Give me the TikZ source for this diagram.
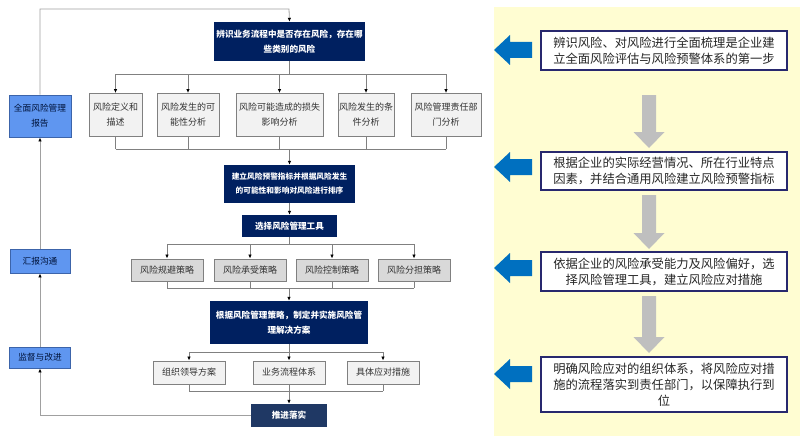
\documentclass[tikz,border=0pt]{standalone}
\usepackage{fontspec}
\setmainfont{Noto Sans CJK SC}
\usetikzlibrary{arrows.meta}

\definecolor{navy}{RGB}{0,32,96}
\definecolor{navylight}{RGB}{31,56,100}
\definecolor{boxgray}{RGB}{242,242,242}
\definecolor{boxgrayd}{RGB}{217,217,217}
\definecolor{edgegray}{RGB}{128,128,128}
\definecolor{linegray}{RGB}{160,160,160}
\definecolor{bluefill}{RGB}{95,150,240}
\definecolor{blueedge}{RGB}{60,100,170}
\definecolor{noteedge}{RGB}{40,40,110}
\definecolor{arrowblue}{RGB}{0,112,192}
\definecolor{arrowgray}{RGB}{191,191,191}
\definecolor{paneyellow}{RGB}{255,253,210}

\tikzset{
  darkbox/.style={fill=navy, text=white, font=\bfseries\fontsize{8.6}{15}\selectfont, align=center, inner sep=0pt},
  graybox/.style={draw=edgegray, fill=boxgray, line width=0.9pt, font=\fontsize{9}{15}\selectfont, text=black!80, align=center, inner sep=0pt},
  sidebox/.style={draw=blueedge, fill=bluefill, line width=0.9pt, font=\fontsize{8.7}{15}\selectfont, text=navy!60!black, align=center, inner sep=0pt},
  notebox/.style={draw=noteedge, fill=white, line width=1.2pt, font=\fontsize{12.3}{16}\selectfont, text=black!85, align=center, inner sep=0pt, minimum width=246pt},
  conn/.style={draw=edgegray, line width=0.8pt},
  flow/.style={conn, -{Latex[length=4pt, width=3.5pt, color=black]}},
  loopline/.style={draw=linegray, line width=0.8pt, -{Latex[length=4pt, width=3.5pt, color=black]}},
}

\begin{document}
\begin{tikzpicture}[x=1pt, y=-1pt]
\useasboundingbox (0,0) rectangle (800,436);
\fill[paneyellow] (494,7) rectangle (800,436);

\node[sidebox, minimum width=62pt, minimum height=42pt] (rep) at (40,116) {全面风险管理\\报告};
\node[sidebox, minimum width=60pt, minimum height=24pt] (comm) at (40,261) {汇报沟通};
\node[sidebox, minimum width=61pt, minimum height=21pt] (mon) at (40,357.5) {监督与改进};

\node[darkbox, minimum width=151pt, minimum height=39pt] (id) at (289.5,41.5) {辨识业务流程中是否存在风险，存在哪\\些类别的风险};
\node[graybox, minimum width=53pt, minimum height=43pt] (a1) at (115.5,115) {风险定义和\\描述};
\node[graybox, minimum width=62pt, minimum height=43pt] (a2) at (188,115) {风险发生的可\\能性分析};
\node[graybox, minimum width=87pt, minimum height=43pt] (a3) at (279.5,115) {风险可能造成的损失\\影响分析};
\node[graybox, minimum width=56pt, minimum height=43pt] (a4) at (366,115) {风险发生的条\\件分析};
\node[graybox, minimum width=70pt, minimum height=43pt] (a5) at (446,115) {风险管理责任部\\门分析};
\node[darkbox, font=\bfseries\fontsize{7.7}{14}\selectfont, minimum width=131pt, minimum height=38pt] (rank) at (289.5,184) {建立风险预警指标并根据风险发生\\的可能性和影响对风险进行排序};
\node[darkbox, minimum width=95pt, minimum height=22pt] (tool) at (289.5,226) {选择风险管理工具};
\node[graybox, fill=boxgrayd, minimum width=72pt, minimum height=22pt] (s1) at (167,270) {风险规避策略};
\node[graybox, fill=boxgrayd, minimum width=72pt, minimum height=22pt] (s2) at (250,270) {风险承受策略};
\node[graybox, fill=boxgrayd, minimum width=72pt, minimum height=22pt] (s3) at (332,270) {风险控制策略};
\node[graybox, fill=boxgrayd, minimum width=72pt, minimum height=22pt] (s4) at (414,270) {风险分担策略};
\node[darkbox, minimum width=158pt, minimum height=43pt] (plan) at (289,322.5) {根据风险管理策略，制定并实施风险管\\理解决方案};
\node[graybox, minimum width=72pt, minimum height=23pt] (r1) at (189,372.5) {组织领导方案};
\node[graybox, minimum width=72pt, minimum height=23pt] (r2) at (289,372.5) {业务流程体系};
\node[graybox, minimum width=72pt, minimum height=23pt] (r3) at (383,372.5) {具体应对措施};
\node[darkbox, fill=navylight, minimum width=76pt, minimum height=23pt] (go) at (289,415.5) {推进落实};

\coordinate (loop) at (289,9);
\coordinate (ya) at (0,74);
\coordinate (yb) at (0,149);
\coordinate (yc) at (0,244);
\coordinate (yd) at (0,288);
\coordinate (ye) at (0,352);
\coordinate (yf) at (0,391);

\draw[conn] (id.south) -- (id.south|-ya);
\draw[conn] (a1.north|-ya) -- (a5.north|-ya);
\foreach \n in {a1,a2,a3,a4,a5} {
  \draw[flow] (\n.north|-ya) -- (\n.north);
  \draw[conn] (\n.south) -- (\n.south|-yb);
}
\draw[conn] (a1.south|-yb) -- (a5.south|-yb);
\draw[flow] (rank.north|-yb) -- (rank.north);
\draw[flow] (rank.south) -- (tool.north);

\draw[conn] (tool.south) -- (tool.south|-yc);
\draw[conn] (s1.north|-yc) -- (s4.north|-yc);
\foreach \n in {s1,s2,s3,s4} {
  \draw[flow] (\n.north|-yc) -- (\n.north);
  \draw[conn] (\n.south) -- (\n.south|-yd);
}
\draw[conn] (s1.south|-yd) -- (s4.south|-yd);
\draw[flow] (plan.north|-yd) -- (plan.north);

\draw[conn] (plan.south) -- (plan.south|-ye);
\draw[conn] (r1.north|-ye) -- (r3.north|-ye);
\foreach \n in {r1,r2,r3} {
  \draw[flow] (\n.north|-ye) -- (\n.north);
  \draw[conn] (\n.south) -- (\n.south|-yf);
}
\draw[conn] (r1.south|-yf) -- (r3.south|-yf);
\draw[flow] (go.north|-yf) -- (go.north);

\draw[loopline] (go.west) -| (mon.south);
\draw[loopline] (mon.north) -- (comm.south);
\draw[loopline] (comm.north) -- (rep.south);
\draw[loopline] (rep.north) |- (loop) -- (id.north);

\node[notebox, minimum height=39pt] (n1) at (664,50.5) {辨识风险、对风险进行全面梳理是企业建\\立全面风险评估与风险预警体系的第一步};
\node[notebox, minimum height=38pt] (n2) at (664,171) {根据企业的实际经营情况、所在行业特点\\因素，并结合通用风险建立风险预警指标};
\node[notebox, minimum height=39pt] (n3) at (664,271.5) {依据企业的风险承受能力及风险偏好，选\\择风险管理工具，建立风险应对措施};
\node[notebox, minimum height=55pt] (n4) at (664,384.5) {明确风险应对的组织体系，将风险应对措\\施的流程落实到责任部门，以保障执行到\\位};

\foreach \y in {50,167,268,374}
  \fill[arrowblue] (494,\y) -- (510,\y-15) -- (510,\y-8) -- (532,\y-8) -- (532,\y+8) -- (510,\y+8) -- (510,\y+15) -- cycle;
\foreach \t/\b in {95/148,195/249,296/353}
  \fill[arrowgray] (642,\t) -- (656,\t) -- (656,\b-16) -- (664.5,\b-16) -- (649,\b) -- (633.5,\b-16) -- (642,\b-16) -- cycle;
\end{tikzpicture}
\end{document}
